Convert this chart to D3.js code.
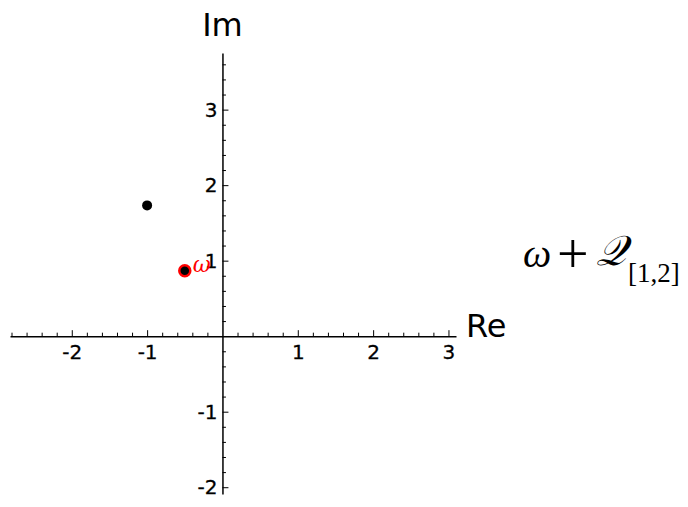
<!DOCTYPE html>
<html><head><meta charset="utf-8">
<script src="https://cdn.jsdelivr.net/npm/d3@7"></script>
<style>body{margin:0;background:#fff}svg{display:block}</style>
</head><body>
<script>
const pointsRe = [-1, -0.5];
const pointsIm = [1.7320508, 0.8660254];
const highlighted = [false, true];
const xMajor = [-2, -1, 1, 2, 3];
const yMajor = [-2, -1, 1, 2, 3];
const xMinor = d3.range(-14, 16).map(i => i / 5).filter(v => v % 1 !== 0);
const yMinor = d3.range(-10, 19).map(i => i / 5).filter(v => v % 1 !== 0);
const xDomain = [-2.82, 3.1];
const yDomain = [-2.09, 3.75];

const W = 688, H = 507;
const svg = d3.select("body").append("svg").attr("width", W).attr("height", H);
const x = d3.scaleLinear().domain(xDomain).range([10, 456]);
const y = d3.scaleLinear().domain(yDomain).range([494, 53]);
const font = "DejaVu Sans, sans-serif";
const fmt = d => String(d);

const gx = svg.append("g").attr("transform", `translate(0,${y(0)})`);
gx.append("g").call(d3.axisBottom(x).tickValues(xMinor).tickSize(-3.5).tickSizeOuter(0).tickFormat(""))
  .call(g => g.select(".domain").remove());
gx.append("g").call(d3.axisBottom(x).tickValues(xMajor).tickSize(-6).tickSizeOuter(0).tickPadding(9).tickFormat(fmt))
  .call(g => g.select(".domain").attr("stroke-width", 1.5));

const gy = svg.append("g").attr("transform", `translate(${x(0)},0)`);
gy.append("g").call(d3.axisLeft(y).tickValues(yMinor).tickSize(-3.5).tickSizeOuter(0).tickFormat(""))
  .call(g => g.select(".domain").remove());
gy.append("g").call(d3.axisLeft(y).tickValues(yMajor).tickSize(-6).tickSizeOuter(0).tickPadding(5).tickFormat(fmt))
  .call(g => g.select(".domain").attr("stroke-width", 1.5));

svg.selectAll("g").attr("font-size", 20).attr("font-family", font);
svg.selectAll(".tick text").style("font-size", "20px").style("font-family", font)
  .attr("fill", "#000").attr("stroke", "#000").attr("stroke-width", 0.3);
svg.selectAll(".tick line").attr("stroke", "#000");
svg.selectAll(".domain").attr("stroke", "#000");

svg.append("text").attr("x", x(0)).attr("y", 36).attr("text-anchor", "middle")
  .attr("font-family", font).attr("font-size", 32).text("Im");
svg.append("text").attr("x", 466).attr("y", 337)
  .attr("font-family", font).attr("font-size", 32).text("Re");

const pts = pointsRe.map((r, i) => ({r, im: pointsIm[i], h: highlighted[i]}));
svg.selectAll("circle.pt").data(pts).join("circle").attr("class", "pt")
  .attr("cx", d => x(d.r)).attr("cy", d => y(d.im))
  .attr("r", d => d.h ? 5.5 : 5)
  .attr("fill", "#000")
  .attr("stroke", d => d.h ? "#f00" : "none")
  .attr("stroke-width", 2.5);

pts.filter(d => d.h).forEach(d => {
  svg.append("text").attr("x", x(d.r) + 8).attr("y", y(d.im) + 1)
    .attr("font-family", "DejaVu Serif, serif").attr("font-style", "italic")
    .attr("font-size", 22).attr("fill", "#f00").text("ω");
});

const serif = "Liberation Serif, DejaVu Serif, serif";
const lab = svg.append("text").attr("font-family", serif).attr("fill", "#000");
lab.append("tspan").attr("x", 523).attr("y", 267).attr("font-size", 40).attr("font-style", "italic").text("ω");
lab.append("tspan").attr("x", 557).attr("y", 273).attr("font-size", 56).text("+");
lab.append("tspan").attr("x", 596).attr("y", 265).attr("font-size", 42).attr("font-style", "italic").text("𝒬");
lab.append("tspan").attr("x", 628).attr("y", 282).attr("font-size", 27).text("[1,2]");
</script>
</body></html>
